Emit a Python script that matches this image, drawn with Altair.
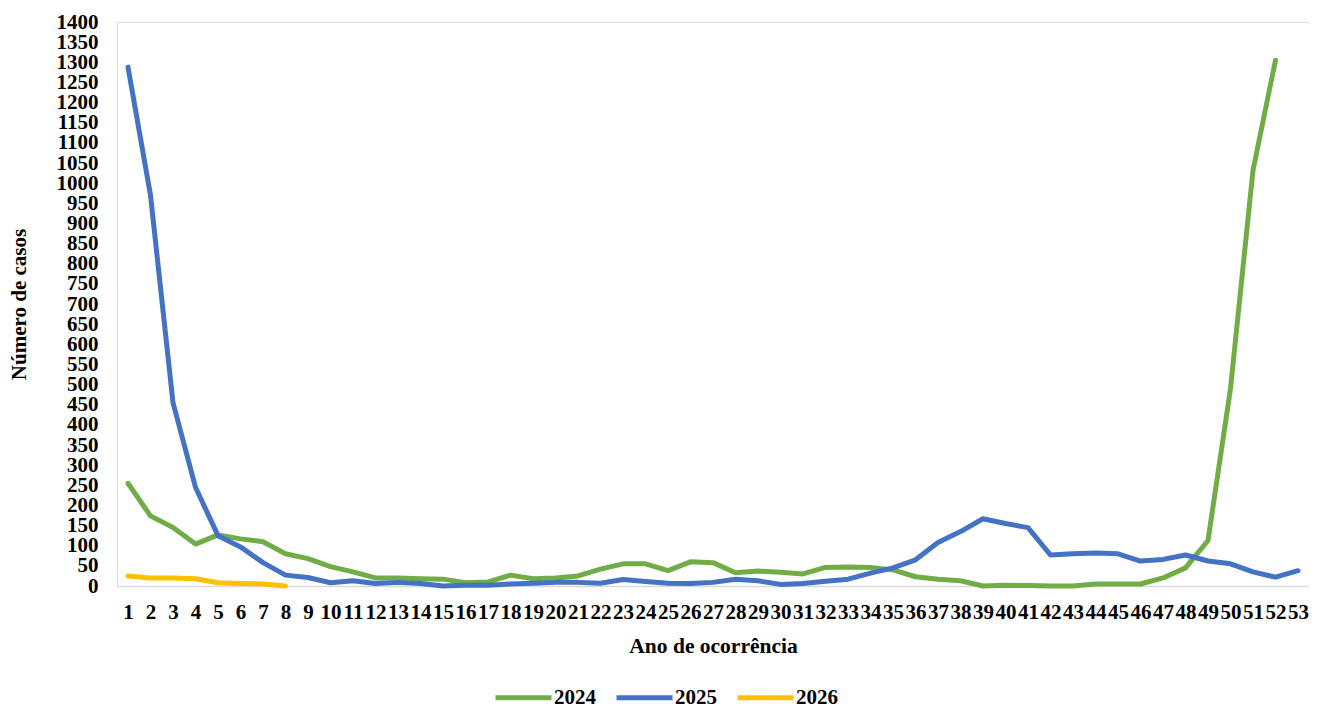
import altair as alt
import pandas as pd

weeks = list(range(1, 54))

cases_2024 = [255, 174, 145, 104, 127, 117, 110, 80, 68, 48,
              35, 20, 20, 18, 17, 8, 10, 27, 18, 20,
              25, 42, 55, 55, 38, 60, 58, 33, 37, 34,
              30, 46, 47, 46, 40, 23, 17, 13, 0, 2,
              1, 0, 0, 5, 5, 5, 20, 45, 113, 490,
              1032, 1305]

cases_2025 = [1288, 970, 455, 245, 125, 97, 58, 27, 21, 8,
              13, 6, 9, 6, 0, 2, 2, 5, 7, 9,
              9, 7, 16, 11, 7, 6, 9, 17, 13, 4,
              6, 12, 17, 32, 45, 65, 108, 135, 167, 155,
              145, 77, 80, 82, 80, 62, 66, 77, 62, 55,
              35, 22, 38]

cases_2026 = [25, 20, 20, 18, 8, 6, 5, 0]

years = ["2024", "2025", "2026"]
colors = ["#70AD47", "#4472C4", "#FFC000"]
y_ticks = list(range(0, 1401, 50))

rows = []
for yr, series in zip(years, [cases_2024, cases_2025, cases_2026]):
    for w, v in zip(weeks, series):
        rows.append({"semana": w, "ano": yr, "casos": v})
df = pd.DataFrame(rows)

FONT = "Liberation Serif"

chart = alt.Chart(df).mark_line(strokeWidth=5, strokeCap="round", strokeJoin="round").encode(
    x=alt.X("semana:Q",
            scale=alt.Scale(domain=[0.5111, 53.489], nice=False, zero=False),
            axis=alt.Axis(values=weeks, format="d", title="Ano de ocorrência",
                          ticks=False, tickSize=0, grid=False,
                          domainColor="#D9D9D9", domainWidth=1.5,
                          labelFont=FONT, labelFontSize=21, labelFontWeight="bold",
                          labelColor="#000000", labelPadding=15, labelOverlap=False,
                          labelFlush=False,
                          titleFont=FONT, titleFontSize=21.5, titleFontWeight="bold",
                          titleColor="#000000", titlePadding=13)),
    y=alt.Y("casos:Q",
            scale=alt.Scale(domain=[0, 1400], nice=False),
            axis=alt.Axis(values=y_ticks, format="d", title="Número de casos",
                          ticks=False, tickSize=0, grid=False, domain=False,
                          labelFont=FONT, labelFontSize=21, labelFontWeight="bold",
                          labelColor="#000000", labelPadding=19, labelOverlap=False,
                          labelFlush=False,
                          titleFont=FONT, titleFontSize=21, titleFontWeight="bold",
                          titleColor="#000000", titlePadding=27)),
    color=alt.Color("ano:N",
                    scale=alt.Scale(domain=years, range=colors),
                    legend=alt.Legend(title=None, orient="none", legendX=376, legendY=645,
                                      direction="horizontal", symbolType="stroke",
                                      symbolSize=3136, symbolStrokeWidth=5,
                                      labelFont=FONT, labelFontSize=21,
                                      labelFontWeight="bold", labelColor="#000000",
                                      labelOffset=0, columnPadding=10)),
    order=alt.Order("semana:Q"),
).properties(
    width=1192,
    height=564,
    autosize=alt.AutoSizeParams(type="none"),
    padding={"left": 109, "top": 14, "right": 0, "bottom": 124},
).configure_view(stroke=None).configure(background="#FFFFFF")

chart.save("out.html", embed_options={"renderer": "svg", "actions": False})
